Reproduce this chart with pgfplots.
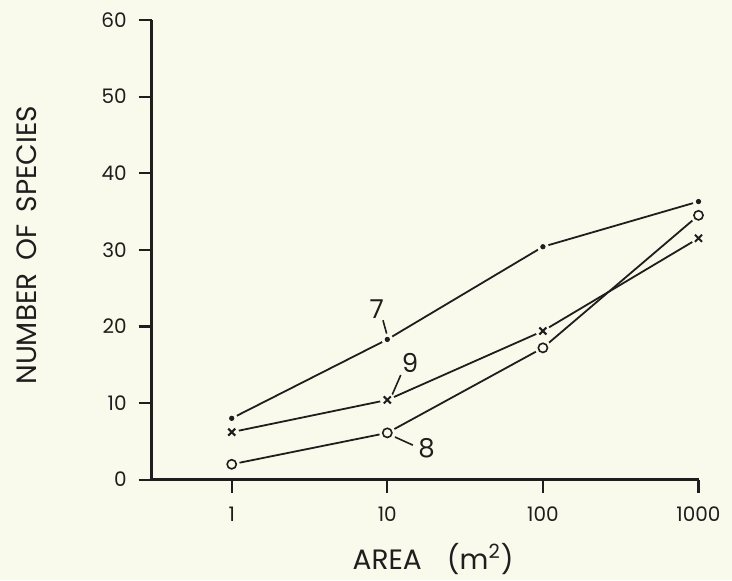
\documentclass[border=0pt]{standalone}
\usepackage{fontspec}
\setmainfont{Poppins}
\usepackage{pgfplots}
\pgfplotsset{compat=1.18}
\definecolor{paper}{RGB}{250,250,236}
\definecolor{ink}{RGB}{30,30,30}
\pgfplotstableread{
x y
1 8.0
10 18.3
100 30.4
1000 36.3
}\seriesseven
\pgfplotstableread{
x y
1 6.2
10 10.4
100 19.4
1000 31.5
}\seriesnine
\pgfplotstableread{
x y
1 2.0
10 6.1
100 17.2
1000 34.5
}\serieseight
\begin{document}
\begin{tikzpicture}
\path[use as bounding box, fill=paper] (-75.85pt,-50.2pt) rectangle (290.15pt,239.8pt);
\begin{axis}[
  at={(0,0)}, anchor=south west,
  scale only axis, width=273.4pt, height=229.8pt,
  xmode=log, xmin=0.306, xmax=1000, ymin=0, ymax=60,
  axis x line*=bottom, axis y line*=left,
  axis line style={line width=1.5pt, ink, -},
  xtick={1,10,100,1000}, xticklabels={1,10,100,1000},
  ytick={0,10,20,30,40,50,60},
  xminorticks=false, yminorticks=false,
  tick align=outside, major tick length=6.5pt,
  major tick style={line width=1.1pt, ink},
  /pgf/number format/assume math mode=true,
  ticklabel style={font=\fontsize{10}{12}\selectfont, text=ink},
  yticklabel style={xshift=-2.5pt},
  xticklabel style={yshift=-3.5pt},
  xlabel={AREA\hspace{0.9em}(m\textsuperscript{2})},
  ylabel={NUMBER\hspace{0.45em}OF\hspace{0.45em}SPECIES},
  xlabel style={at={(axis description cs:0.5146,-0.172)}, anchor=center, font=\fontsize{14}{16}\selectfont, text=ink},
  ylabel style={at={(axis description cs:-0.228,0.51)}, anchor=center, font=\fontsize{14}{16}\selectfont, text=ink},
  clip=false,
]
% lines
\addplot[ink, line width=0.9pt] table[x=x,y=y] {\seriesseven};
\addplot[ink, line width=0.9pt] table[x=x,y=y] {\seriesnine};
\addplot[ink, line width=0.9pt] table[x=x,y=y] {\serieseight};
% halos (gaps between marks and lines)
\addplot[only marks, draw=paper, fill=paper, mark=*, mark size=2.8pt, mark options={draw=paper, fill=paper}] table[x=x,y=y] {\seriesseven};
\addplot[only marks, draw=paper, fill=paper, mark=*, mark size=3.4pt, mark options={draw=paper, fill=paper}] table[x=x,y=y] {\seriesnine};
\addplot[only marks, draw=paper, fill=paper, mark=*, mark size=3.8pt, mark options={draw=paper, fill=paper}] table[x=x,y=y] {\serieseight};
% marks
\addplot[only marks, mark=*, mark size=1.1pt, draw=ink, fill=ink, mark options={draw=ink, fill=ink}] table[x=x,y=y] {\seriesseven};
\addplot[only marks, mark=x, mark size=2.5pt, draw=ink, mark options={draw=ink, line width=1pt}] table[x=x,y=y] {\seriesnine};
\addplot[only marks, mark=o, mark size=2.3pt, draw=ink, mark options={draw=ink, fill=paper, line width=0.8pt}] table[x=x,y=y] {\serieseight};
% curve labels
\node[font=\fontsize{13}{15}\selectfont, text=ink] at (axis cs:8.55,22.2) {7};
\draw[ink, line width=0.8pt] (axis cs:9.38,20.8) -- (axis cs:9.95,18.9);
\node[font=\fontsize{13}{15}\selectfont, text=ink] at (axis cs:14.0,15.2) {9};
\draw[ink, line width=0.8pt] (axis cs:12.2,13.65) -- (axis cs:10.6,10.8);
\node[font=\fontsize{13}{15}\selectfont, text=ink] at (axis cs:17.9,4.1) {8};
\draw[ink, line width=0.8pt] (axis cs:11.2,5.56) -- (axis cs:14.6,4.5);
\end{axis}
\end{tikzpicture}
\end{document}
